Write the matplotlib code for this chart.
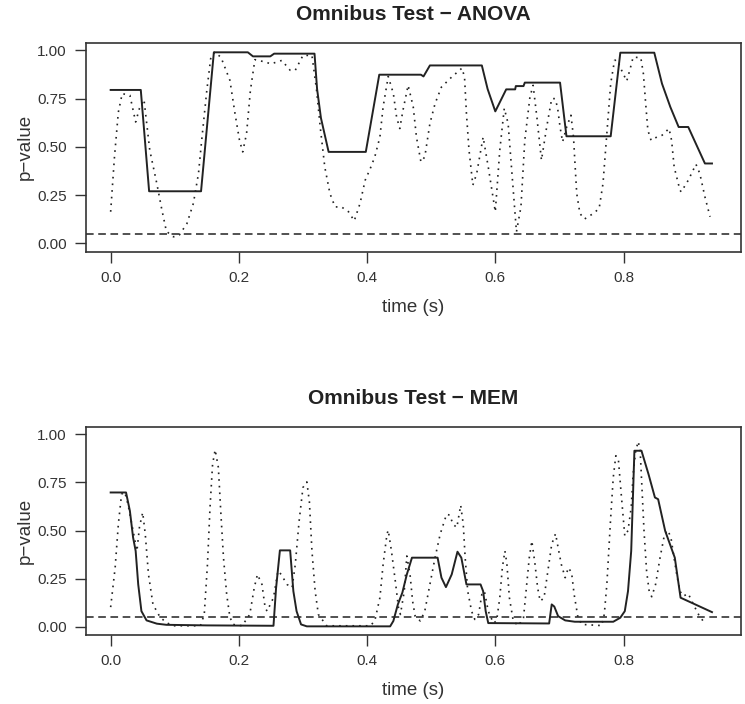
import numpy as np
import matplotlib
matplotlib.use("Agg")
import matplotlib.pyplot as plt

plt.rcParams['font.family'] = ['Liberation Sans', 'DejaVu Sans']

# ANOVA: smoothed p-value (solid) and raw p-value (dotted)
anova_t = [0.0, 0.047, 0.060, 0.141, 0.146, 0.161, 0.214, 0.222, 0.249, 0.255, 0.318,
           0.322, 0.328, 0.340, 0.398, 0.419, 0.484, 0.488, 0.498, 0.579, 0.588, 0.600,
           0.617, 0.631, 0.632, 0.644, 0.646, 0.701, 0.711, 0.780, 0.795, 0.848, 0.860,
           0.873, 0.886, 0.901, 0.927, 0.938]
anova_p = [0.795, 0.795, 0.27, 0.27, 0.45, 0.99, 0.99, 0.969, 0.969, 0.983, 0.983,
           0.80, 0.65, 0.474, 0.474, 0.874, 0.874, 0.865, 0.922, 0.922, 0.80, 0.684,
           0.798, 0.798, 0.815, 0.815, 0.833, 0.833, 0.555, 0.555, 0.988, 0.988, 0.828,
           0.707, 0.603, 0.603, 0.414, 0.414]

anova_raw_t = [0.0, 0.006, 0.012, 0.018, 0.030, 0.039, 0.045, 0.052, 0.061, 0.072, 0.080,
               0.087, 0.098, 0.107, 0.119, 0.129, 0.137, 0.142, 0.150, 0.156, 0.162, 0.172,
               0.186, 0.194, 0.201, 0.206, 0.212, 0.218, 0.225, 0.241, 0.250, 0.267, 0.280,
               0.288, 0.300, 0.314, 0.321, 0.327, 0.334, 0.342, 0.350, 0.360, 0.371, 0.380,
               0.389, 0.397, 0.405, 0.412, 0.420, 0.425, 0.433, 0.441, 0.446, 0.451, 0.456,
               0.464, 0.472, 0.477, 0.484, 0.490, 0.498, 0.506, 0.516, 0.532, 0.548, 0.552,
               0.555, 0.559, 0.565, 0.571, 0.581, 0.589, 0.600, 0.607, 0.614, 0.620, 0.626,
               0.633, 0.640, 0.646, 0.654, 0.659, 0.665, 0.672, 0.680, 0.688, 0.693, 0.697,
               0.701, 0.705, 0.711, 0.718, 0.722, 0.724, 0.727, 0.732, 0.739, 0.753, 0.762,
               0.768, 0.772, 0.776, 0.780, 0.786, 0.790, 0.797, 0.805, 0.810, 0.815, 0.827,
               0.831, 0.835, 0.838, 0.843, 0.852, 0.860, 0.871, 0.875, 0.879, 0.888, 0.890,
               0.901, 0.913, 0.919, 0.927, 0.935]
anova_raw_p = [0.164, 0.45, 0.68, 0.776, 0.767, 0.629, 0.70, 0.745, 0.483, 0.31, 0.172,
               0.062, 0.034, 0.043, 0.103, 0.207, 0.362, 0.534, 0.793, 0.957, 0.99, 0.965,
               0.845, 0.672, 0.534, 0.474, 0.569, 0.793, 0.952, 0.94, 0.93, 0.948, 0.897,
               0.897, 0.974, 0.974, 0.80, 0.60, 0.396, 0.259, 0.189, 0.189, 0.164, 0.117,
               0.207, 0.327, 0.388, 0.448, 0.551, 0.707, 0.865, 0.776, 0.655, 0.595, 0.690,
               0.819, 0.707, 0.551, 0.422, 0.448, 0.621, 0.724, 0.810, 0.862, 0.908, 0.862,
               0.672, 0.483, 0.302, 0.362, 0.551, 0.396, 0.164, 0.483, 0.70, 0.621, 0.362,
               0.06, 0.189, 0.534, 0.758, 0.819, 0.65, 0.431, 0.60, 0.750, 0.75, 0.707,
               0.603, 0.526, 0.60, 0.664, 0.551, 0.431, 0.259, 0.155, 0.126, 0.155, 0.181,
               0.310, 0.483, 0.655, 0.828, 0.948, 0.95, 0.897, 0.841, 0.90, 0.965, 0.962,
               0.879, 0.707, 0.586, 0.534, 0.551, 0.560, 0.595, 0.534, 0.396, 0.276, 0.267,
               0.327, 0.410, 0.362, 0.241, 0.138]

# MEM: smoothed p-value (solid) and raw p-value (dotted)
mem_t = [0.0, 0.024, 0.030, 0.035, 0.039, 0.043, 0.048, 0.056, 0.072, 0.087, 0.15, 0.254,
         0.258, 0.264, 0.280, 0.285, 0.290, 0.297, 0.306, 0.436, 0.441, 0.448, 0.455,
         0.462, 0.470, 0.510, 0.516, 0.523, 0.532, 0.541, 0.547, 0.555, 0.577, 0.581,
         0.585, 0.589, 0.684, 0.688, 0.692, 0.698, 0.709, 0.724, 0.784, 0.795, 0.802,
         0.807, 0.812, 0.815, 0.817, 0.828, 0.839, 0.849, 0.854, 0.865, 0.880, 0.889, 0.938]
mem_p = [0.698, 0.698, 0.602, 0.464, 0.394, 0.22, 0.081, 0.033, 0.016, 0.010, 0.007, 0.005,
         0.2, 0.397, 0.397, 0.185, 0.081, 0.012, 0.002, 0.002, 0.03, 0.116, 0.177,
         0.272, 0.359, 0.359, 0.255, 0.206, 0.272, 0.39, 0.359, 0.22, 0.22, 0.185,
         0.081, 0.019, 0.017, 0.116, 0.105, 0.055, 0.033, 0.026, 0.026, 0.047, 0.081,
         0.185, 0.394, 0.706, 0.915, 0.915, 0.793, 0.672, 0.663, 0.498, 0.359, 0.151, 0.076]

mem_raw_t = [0.0, 0.007, 0.012, 0.017, 0.022, 0.027, 0.033, 0.041, 0.045, 0.050, 0.054,
             0.059, 0.066, 0.077, 0.087, 0.098, 0.14, 0.146, 0.151, 0.155, 0.159, 0.163,
             0.168, 0.172, 0.176, 0.181, 0.186, 0.191, 0.205, 0.217, 0.224, 0.229, 0.236,
             0.241, 0.244, 0.254, 0.261, 0.266, 0.275, 0.283, 0.288, 0.294, 0.300, 0.306,
             0.310, 0.314, 0.319, 0.324, 0.337, 0.405, 0.412, 0.420, 0.425, 0.431, 0.433,
             0.438, 0.444, 0.449, 0.452, 0.458, 0.462, 0.467, 0.471, 0.475, 0.483, 0.490,
             0.498, 0.506, 0.514, 0.519, 0.524, 0.529, 0.534, 0.540, 0.546, 0.550, 0.553,
             0.557, 0.563, 0.568, 0.574, 0.579, 0.583, 0.589, 0.597, 0.602, 0.607, 0.611,
             0.615, 0.618, 0.622, 0.628, 0.636, 0.644, 0.649, 0.653, 0.657, 0.662, 0.666,
             0.670, 0.676, 0.682, 0.688, 0.694, 0.698, 0.703, 0.709, 0.714, 0.719, 0.723,
             0.729, 0.735, 0.766, 0.770, 0.774, 0.777, 0.780, 0.784, 0.788, 0.792, 0.796,
             0.800, 0.802, 0.807, 0.812, 0.815, 0.819, 0.823, 0.826, 0.829, 0.832, 0.836,
             0.840, 0.844, 0.850, 0.857, 0.864, 0.869, 0.874, 0.878, 0.883, 0.888, 0.893,
             0.901, 0.909, 0.917, 0.927]
mem_raw_p = [0.102, 0.307, 0.533, 0.689, 0.70, 0.637, 0.533, 0.394, 0.52, 0.594, 0.481,
             0.272, 0.116, 0.05, 0.021, 0.005, 0.005, 0.064, 0.324, 0.620, 0.845, 0.920,
             0.828, 0.585, 0.359, 0.168, 0.05, 0.012, 0.005, 0.064, 0.203, 0.272, 0.220,
             0.099, 0.081, 0.151, 0.290, 0.272, 0.220, 0.203, 0.324, 0.55, 0.724, 0.753,
             0.65, 0.394, 0.185, 0.064, 0.005, 0.005, 0.03, 0.151, 0.324, 0.481, 0.502,
             0.394, 0.238, 0.099, 0.064, 0.185, 0.368, 0.272, 0.133, 0.055, 0.03, 0.081,
             0.220, 0.359, 0.481, 0.533, 0.585, 0.58, 0.533, 0.516, 0.632, 0.533, 0.359,
             0.185, 0.081, 0.038, 0.064, 0.168, 0.185, 0.081, 0.019, 0.03, 0.151, 0.307,
             0.394, 0.33, 0.151, 0.03, 0.005, 0.047, 0.22, 0.359, 0.446, 0.324, 0.203,
             0.133, 0.15, 0.290, 0.429, 0.484, 0.411, 0.324, 0.255, 0.307, 0.281, 0.168,
             0.047, 0.012, 0.006, 0.064, 0.220, 0.394, 0.568, 0.776, 0.889, 0.87, 0.706,
             0.550, 0.472, 0.50, 0.62, 0.793, 0.915, 0.963, 0.915, 0.706, 0.498, 0.290,
             0.185, 0.156, 0.220, 0.359, 0.481, 0.502, 0.463, 0.376, 0.272, 0.185, 0.159,
             0.172, 0.116, 0.064, 0.016]

alpha = 0.05
x_ticks = [0.0, 0.2, 0.4, 0.6, 0.8]
y_ticks = [0.0, 0.25, 0.5, 0.75, 1.0]

panels = [
    ("Omnibus Test \u2212 ANOVA", anova_t, anova_p, anova_raw_t, anova_raw_p),
    ("Omnibus Test \u2212 MEM", mem_t, mem_p, mem_raw_t, mem_raw_p),
]

ink = '#222222'
fig = plt.figure(figsize=(7.45, 7.04), dpi=100)
boxes = [[0.1154, 0.6425, 0.879, 0.2969], [0.1154, 0.098, 0.879, 0.2959]]

for box, (title, t, p, rt, rp) in zip(boxes, panels):
    ax = fig.add_axes(box)
    ax.plot(rt, rp, color=ink, lw=1.2, linestyle=(0, (1, 3)))
    ax.plot(t, p, color=ink, lw=1.4)
    ax.axhline(alpha, color=ink, lw=1.1, linestyle=(0, (5, 3)))
    ax.set_xlim(-0.0385, 0.983)
    ax.set_ylim(-0.043, 1.04)
    ax.set_xticks(x_ticks)
    ax.set_xticklabels([f"{v:.1f}" for v in x_ticks])
    ax.set_yticks(y_ticks)
    ax.set_yticklabels([f"{v:.2f}" for v in y_ticks])
    for s in ax.spines.values():
        s.set_color('#333333')
        s.set_linewidth(1.2)
    ax.tick_params(direction='out', length=8, width=1.0, color='#333333',
                   labelsize=11, labelcolor='#333333', pad=6)
    ax.set_xlabel("time (s)", fontsize=13.5, color='#333333', labelpad=10)
    ax.set_ylabel("p\u2212value", fontsize=13.5, color='#333333', labelpad=2)
    ax.set_title(title, fontsize=15, fontweight='bold', color=ink, pad=16)

fig.savefig("out.png", dpi=100)
